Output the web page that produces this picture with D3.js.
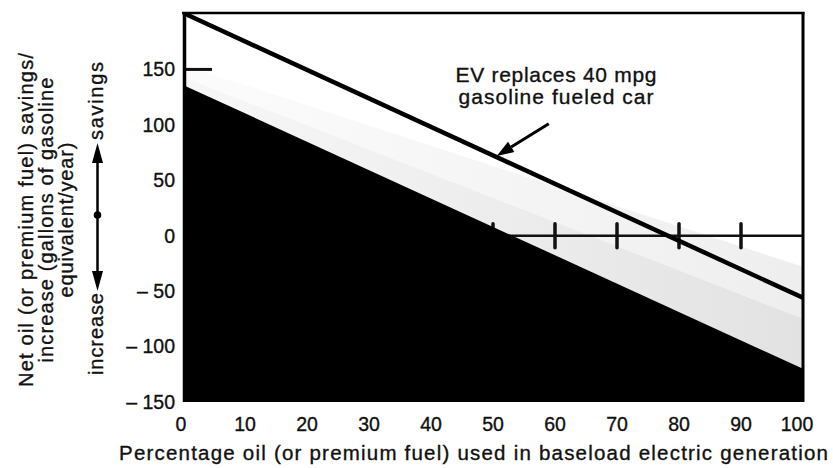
<!DOCTYPE html>
<html>
<head>
<meta charset="utf-8">
<script src="https://cdn.jsdelivr.net/npm/d3@7"></script>
<style>
  html, body { margin: 0; padding: 0; background: #fff; }
  svg { display: block; }
  text { font-family: "Liberation Sans", Arial, Helvetica, sans-serif; fill: #111; stroke: #111; stroke-width: 0.35px; }
</style>
</head>
<body>
<svg id="chart" width="833" height="468"></svg>
<script>
// ---- data ----
const pct = [0, 100];                       // % oil in baseload generation
const evSavings = [201, -56];               // EV replaces 40 mpg car (line)
const blackTop = [136, -120];               // upper edge of black region
const shadeTop = [154, -28];                // upper edge of stippled band
const shadeInner = [143, -75];              // denser inner part of stippled band
const xTicks = [0, 10, 20, 30, 40, 50, 60, 70, 80, 90, 100];
const yTicks = [150, 100, 50, 0, -50, -100, -150];
const yTickLabels = ["150", "100", "50", "0", "\u2013 50", "\u2013 100", "\u2013 150"];
const zeroLineTicks = [50, 60, 70, 80, 90];
const annotationLines = ["EV replaces 40 mpg", "gasoline fueled car"];
const arrowFrom = [59, 101];
const arrowTo = [50.6, 72];
const yTitleLines = ["Net oil (or premium fuel) savings/", "increase (gallons of gasoline", "equivalent/year)"];
const xTitle = "Percentage oil (or premium fuel) used in baseload electric generation";

// ---- layout ----
const svg = d3.select("#chart");
const L = 183, R = 803, T = 13, B = 402;
const x = d3.scaleLinear().domain([0, 100]).range([L, R]);
const y = d3.scaleLinear().domain([-150, 200]).range([B, 14]);

const defs = svg.append("defs");
defs.append("clipPath").attr("id", "plot")
  .append("rect").attr("x", L).attr("y", T).attr("width", R - L).attr("height", B - T);
function hGrad(id, c0, c1, c2) {
  const gr = defs.append("linearGradient").attr("id", id)
    .attr("gradientUnits", "userSpaceOnUse")
    .attr("x1", L).attr("x2", R).attr("y1", 0).attr("y2", 0);
  gr.append("stop").attr("offset", 0).attr("stop-color", c0);
  gr.append("stop").attr("offset", 0.45).attr("stop-color", c1);
  gr.append("stop").attr("offset", 1).attr("stop-color", c2);
}
hGrad("stippleOuter", "#fcfcfc", "#f6f6f6", "#eeeeee");
hGrad("stippleInner", "#f7f7f7", "#eeeeee", "#e2e2e2");

const g = svg.append("g").attr("clip-path", "url(#plot)");

// stippled band (outer, lighter) and inner (denser, near black edge)
const areaGen = d3.area().x(d => x(d.p)).y0(d => y(d.bot)).y1(d => y(d.top));
g.append("path")
  .datum(pct.map((p, i) => ({ p, top: shadeTop[i], bot: blackTop[i] })))
  .attr("fill", "url(#stippleOuter)")
  .attr("d", areaGen);
g.append("path")
  .datum(pct.map((p, i) => ({ p, top: shadeInner[i], bot: blackTop[i] })))
  .attr("fill", "url(#stippleInner)")
  .attr("d", areaGen);

// zero line with tick marks
g.append("line")
  .attr("x1", L).attr("x2", R).attr("y1", y(0)).attr("y2", y(0))
  .attr("stroke", "#111").attr("stroke-width", 2.5);
g.selectAll(".zt").data(zeroLineTicks).join("line")
  .attr("x1", d => x(d)).attr("x2", d => x(d))
  .attr("y1", y(0) - 12).attr("y2", y(0) + 12)
  .attr("stroke", "#111").attr("stroke-width", 3.5).attr("stroke-linecap", "round");

// inward y ticks
g.selectAll(".yt").data(yTicks).join("line")
  .attr("x1", L).attr("x2", L + 29)
  .attr("y1", d => y(d)).attr("y2", d => y(d))
  .attr("stroke", "#111").attr("stroke-width", 3);

// black region
g.append("path")
  .datum(pct.map((p, i) => ({ p, top: blackTop[i] })))
  .attr("fill", "#000")
  .attr("d", d3.area().x(d => x(d.p)).y0(y(-150) + 2).y1(d => y(d.top)));

// EV line
g.append("path")
  .datum(pct.map((p, i) => ({ p, v: evSavings[i] })))
  .attr("fill", "none").attr("stroke", "#000").attr("stroke-width", 4.5)
  .attr("d", d3.line().x(d => x(d.p)).y(d => y(d.v)));

// frame
svg.append("line").attr("x1", L - 1).attr("x2", R + 1.5).attr("y1", T).attr("y2", T)
  .attr("stroke", "#000").attr("stroke-width", 2.5);
svg.append("line").attr("x1", L + 1.5).attr("x2", L + 1.5).attr("y1", T - 1).attr("y2", B)
  .attr("stroke", "#000").attr("stroke-width", 3.5);
svg.append("line").attr("x1", R).attr("x2", R).attr("y1", T - 1).attr("y2", B)
  .attr("stroke", "#000").attr("stroke-width", 3);

// y tick labels
svg.selectAll(".yl").data(yTicks).join("text")
  .attr("x", 175).attr("y", d => y(d))
  .attr("dy", "0.35em")
  .attr("text-anchor", "end")
  .attr("font-size", 19.5)
  .text((d, i) => yTickLabels[i]);

// x tick labels
svg.selectAll(".xl").data(xTicks).join("text")
  .attr("x", d => x(d) - (d === 0 ? 2 : 0) - (d === 100 ? 6 : 0)).attr("y", 431)
  .attr("text-anchor", "middle")
  .attr("font-size", 19.5)
  .text(d => d);

// x title
svg.append("text")
  .attr("x", 119).attr("y", 460)
  .attr("font-size", 20.5)
  .attr("textLength", 709).attr("lengthAdjust", "spacing")
  .text(xTitle);

// y title (rotated)
const yTitleX = [33, 53, 73];
const yTitleLen = [334, 285, 155];
yTitleLines.forEach((t, i) => {
  svg.append("text")
    .attr("transform", `translate(${yTitleX[i]},220) rotate(-90)`)
    .attr("text-anchor", "middle")
    .attr("font-size", 20)
    .attr("textLength", yTitleLen[i]).attr("lengthAdjust", "spacing")
    .text(t);
});
// increase <-- • --> savings
svg.append("text")
  .attr("transform", "translate(103,375) rotate(-90)")
  .attr("font-size", 20)
  .attr("textLength", 82).attr("lengthAdjust", "spacing")
  .text("increase");
svg.append("text")
  .attr("transform", "translate(103,140) rotate(-90)")
  .attr("font-size", 20)
  .attr("textLength", 78).attr("lengthAdjust", "spacing")
  .text("savings");
const ax = 97.5;
svg.append("line").attr("x1", ax).attr("x2", ax).attr("y1", 160).attr("y2", 275)
  .attr("stroke", "#000").attr("stroke-width", 2.5);
svg.append("circle").attr("cx", ax).attr("cy", 215).attr("r", 3.8).attr("fill", "#000");
svg.append("path").attr("d", `M${ax},143 L${ax - 5.5},163 L${ax + 5.5},163 Z`).attr("fill", "#000");
svg.append("path").attr("d", `M${ax},291 L${ax - 5.5},271 L${ax + 5.5},271 Z`).attr("fill", "#000");

// annotation
annotationLines.forEach((t, i) => {
  svg.append("text")
    .attr("x", 556).attr("y", 82 + i * 22)
    .attr("text-anchor", "middle")
    .attr("font-size", 21)
    .attr("textLength", i === 0 ? 201 : 195).attr("lengthAdjust", "spacing")
    .text(t);
});
const ax0 = x(arrowFrom[0]), ay0 = y(arrowFrom[1]);
const ax1 = x(arrowTo[0]), ay1 = y(arrowTo[1]);
const ang = Math.atan2(ay1 - ay0, ax1 - ax0);
const headLen = 17, headW = 6;
const bx = ax1 - headLen * Math.cos(ang), by = ay1 - headLen * Math.sin(ang);
svg.append("line").attr("x1", ax0).attr("y1", ay0).attr("x2", bx).attr("y2", by)
  .attr("stroke", "#000").attr("stroke-width", 3);
svg.append("path")
  .attr("d", `M${ax1},${ay1} L${bx + headW * Math.sin(ang)},${by - headW * Math.cos(ang)} L${bx - headW * Math.sin(ang)},${by + headW * Math.cos(ang)} Z`)
  .attr("fill", "#000");
</script>
</body>
</html>
